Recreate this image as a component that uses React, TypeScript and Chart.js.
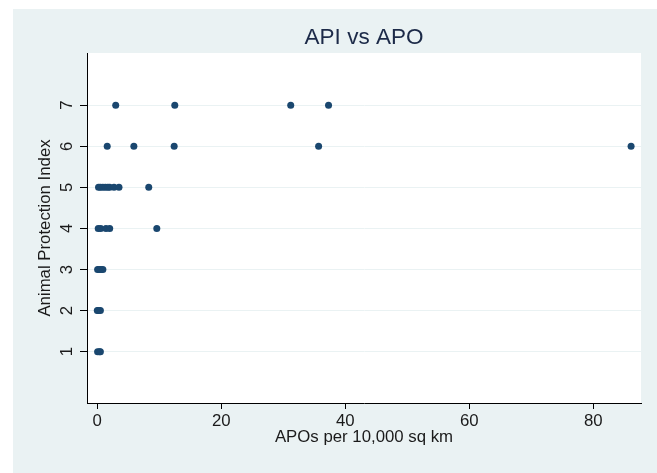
import React, { useEffect, useRef } from "react";
import { Chart, registerables } from "chart.js";

Chart.register(...registerables);

const titleText = "API vs APO";
const xTitle = "APOs per 10,000 sq km";
const yTitle = "Animal Protection Index";
const xTicks = [0, 20, 40, 60, 80];
const yTicks = [1, 2, 3, 4, 5, 6, 7];

// APOs per 10,000 sq km (x) and Animal Protection Index (y)
const apoValues = [
  2.97, 12.5, 31.2, 37.3,
  1.6, 5.9, 12.4, 35.7, 86.1,
  0.2, 0.5, 0.9, 1.3, 1.7, 2.0, 2.7, 3.5, 8.3,
  0.15, 0.55, 1.4, 2.0, 9.6,
  0.05, 0.3, 0.6, 0.9,
  0.0, 0.2, 0.5,
  0.05, 0.35, 0.5,
];
const apiValues = [
  7, 7, 7, 7,
  6, 6, 6, 6, 6,
  5, 5, 5, 5, 5, 5, 5, 5, 5,
  4, 4, 4, 4, 4,
  3, 3, 3, 3,
  2, 2, 2,
  1, 1, 1,
];

const FONT = "'Liberation Sans', Arial, Helvetica, sans-serif";
const PANEL = "#EAF2F3";
const MARKER = "#1A476F";
const TEXT = "#1a1a1a";

const plotBg = {
  id: "plotBg",
  beforeDraw(chart: any) {
    const { ctx, chartArea } = chart;
    if (!chartArea) return;
    ctx.save();
    ctx.fillStyle = "#ffffff";
    ctx.fillRect(
      chartArea.left,
      chartArea.top,
      chartArea.right - chartArea.left,
      chartArea.bottom - chartArea.top
    );
    ctx.restore();
  },
};

// Stata-style vertical (rotated) y tick labels
const yRotatedLabels = {
  id: "yRotatedLabels",
  afterDraw(chart: any) {
    const { ctx, scales } = chart;
    const y = scales.y;
    ctx.save();
    ctx.fillStyle = TEXT;
    ctx.font = `16.8px ${FONT}`;
    ctx.textAlign = "center";
    ctx.textBaseline = "middle";
    const cx = y.right - 7 - 13;
    y.ticks.forEach((t: any) => {
      const py = y.getPixelForValue(t.value);
      ctx.save();
      ctx.translate(cx, py);
      ctx.rotate(-Math.PI / 2);
      ctx.fillText(String(t.value), 0, 0);
      ctx.restore();
    });
    ctx.restore();
  },
};

export default function App() {
  const ref = useRef<HTMLCanvasElement | null>(null);

  useEffect(() => {
    if (!ref.current) return;
    const points = apoValues.map((x, i) => ({ x, y: apiValues[i] }));
    const chart = new Chart(ref.current, {
      type: "scatter",
      data: {
        datasets: [
          {
            data: points,
            backgroundColor: MARKER,
            borderColor: MARKER,
            borderWidth: 0,
            pointRadius: 3.5,
            pointHoverRadius: 3.5,
          },
        ],
      },
      plugins: [plotBg, yRotatedLabels],
      options: {
        responsive: false,
        animation: false,
        layout: { padding: { left: 0, right: 16, top: 0, bottom: 0 } },
        plugins: {
          legend: { display: false },
          tooltip: { enabled: false },
          title: {
            display: true,
            fullSize: false,
            text: titleText,
            color: "#1c2a48",
            font: { family: FONT, size: 22.5, weight: "normal" },
            padding: { top: 14.8, bottom: 2.2 },
          },
        },
        scales: {
          x: {
            type: "linear",
            min: -1.66,
            max: 87.7,
            afterBuildTicks: (s: any) => {
              s.ticks = xTicks.map((v) => ({ value: v }));
            },
            afterFit: (s: any) => {
              s.height = 70;
            },
            grid: {
              display: true,
              drawOnChartArea: false,
              drawTicks: true,
              tickLength: 6,
              tickColor: "#000000",
              tickWidth: 1,
            },
            border: { display: true, color: "#000000", width: 1 },
            ticks: {
              color: TEXT,
              font: { family: FONT, size: 16.8 },
              padding: 2.5,
              maxRotation: 0,
              minRotation: 0,
            },
            title: {
              display: true,
              text: xTitle,
              color: TEXT,
              font: { family: FONT, size: 16.8 },
              padding: { top: 0, bottom: 26 },
            },
          },
          y: {
            type: "linear",
            min: -0.25,
            max: 8.27,
            afterBuildTicks: (s: any) => {
              s.ticks = yTicks.map((v) => ({ value: v }));
            },
            afterFit: (s: any) => {
              s.width = 74;
            },
            grid: {
              display: true,
              drawOnChartArea: true,
              color: PANEL,
              lineWidth: 1,
              drawTicks: true,
              tickLength: 7,
              tickColor: "#000000",
              tickWidth: 1,
            },
            border: { display: true, color: "#000000", width: 1 },
            ticks: {
              display: false,
            },
            title: {
              display: true,
              text: yTitle,
              color: TEXT,
              font: { family: FONT, size: 16.8 },
              padding: { top: 22, bottom: 0 },
            },
          },
        },
      },
    } as any);
    return () => chart.destroy();
  }, []);

  return (
    <div
      style={{
        position: "absolute",
        left: 13,
        top: 9,
        width: 644,
        height: 464,
        background: PANEL,
      }}
    >
      <canvas ref={ref} width={644} height={464} style={{ display: "block" }} />
    </div>
  );
}
